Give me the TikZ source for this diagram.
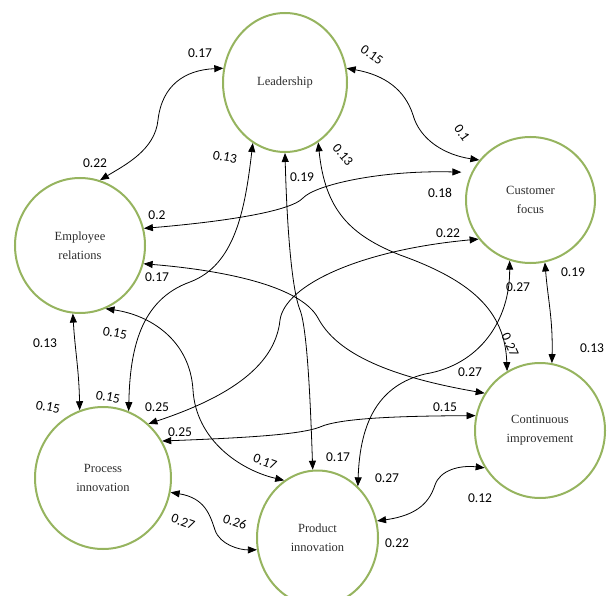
\documentclass[tikz,border=0pt]{standalone}
\usepackage{fontspec}
\setmainfont{Liberation Serif}
\newfontfamily\labfont{Carlito}
\usetikzlibrary{shapes.geometric,arrows.meta}
\definecolor{olivec}{RGB}{150,180,95}
\definecolor{txtc}{RGB}{45,45,45}
\tikzset{
  cnode/.style={ellipse, draw=olivec, line width=2pt, inner sep=0pt, align=center, text=txtc, font=\fontsize{12.5}{19}\selectfont},
  rel/.style={line width=0.8pt, {Triangle[length=9pt,width=7pt]}-{Triangle[length=9pt,width=7pt]}},
  lab/.style={font=\labfont\fontsize{13.5}{14}\selectfont, inner sep=0pt}
}
\begin{document}
\begin{tikzpicture}[x=1pt,y=-1pt]
\useasboundingbox (0,0) rectangle (610,596);
% nodes
\node[cnode, minimum width=124pt, minimum height=139pt] (L) at (285,82.5) {Leadership};
\node[cnode, minimum width=130pt, minimum height=135pt] (ER) at (80,245.5) {Employee\\relations};
\node[cnode, minimum width=129pt, minimum height=126pt] (CF) at (530.5,200) {Customer\\focus};
\node[cnode, minimum width=136pt, minimum height=142pt] (PI) at (103,478) {Process\\innovation};
\node[cnode, minimum width=121pt, minimum height=135pt] (PD) at (317.5,538) {Product\\innovation};
\node[cnode, minimum width=130pt, minimum height=135pt] (CI) at (540,430.5) {Continuous\\improvement};
% edges
\draw[rel] (ER.73) .. controls (125,165) and (155,150) .. (158,120) .. controls (162,85) and (185,70) .. (L.167);
\draw[rel] (L.13) .. controls (385,75) and (405,90) .. (413,115) .. controls (420,140) and (445,155) .. (CF.142);
\draw[rel, shorten >=10pt] (ER.15) .. controls (220,222) and (290,212) .. (303,198) .. controls (315,185) and (380,170) .. (CF.155);
\draw[rel] (PI.69) .. controls (130,350) and (140,300) .. (190,282) .. controls (235,265) and (245,210) .. (L.242);
\draw[rel] (L.270) .. controls (287,230) and (292,290) .. (300,310) .. controls (308,330) and (311,420) .. (PD.94);
\draw[rel] (L.299) .. controls (325,210) and (350,235) .. (400,255) .. controls (470,280) and (505,310) .. (CI.119);
\draw[rel] (ER.344) .. controls (220,270) and (300,285) .. (318,318) .. controls (335,350) and (380,375) .. (CI.146);
\draw[rel] (ER.292) .. controls (150,315) and (190,340) .. (193,390) .. controls (196,440) and (240,470) .. (PD.120);
\draw[rel] (ER.264) .. controls (75,350) and (79,370) .. (PI.109);
\draw[rel] (PI.50) .. controls (220,400) and (275,370) .. (280,320) .. controls (285,285) and (360,250) .. (CF.217);
\draw[rel] (PI.32) .. controls (240,438) and (300,435) .. (320,427) .. controls (340,418) and (400,416) .. (CI.167);
\draw[rel] (PI.348) .. controls (205,498) and (210,515) .. (215,530) .. controls (220,545) and (240,550) .. (PD.191);
\draw[rel] (CF.251) .. controls (510,320) and (480,365) .. (425,374) .. controls (380,385) and (360,420) .. (PD.52);
\draw[rel] (CF.283) .. controls (548,300) and (553,320) .. (CI.80);
\draw[rel] (PD.16) .. controls (420,515) and (430,500) .. (435,485) .. controls (440,470) and (460,465) .. (CI.214);
% labels
\node[lab] (a1) at (200,53) {0.17};
\node[lab] (a2) at (95,163) {0.22};
\node[lab, rotate=-35] (b1) at (372,55) {0.15};
\node[lab, rotate=-55] (b2) at (462,133) {0.1};
\node[lab] (c1) at (157,215) {0.2};
\node[lab] (c2) at (440,193) {0.18};
\node[lab, rotate=-10] (d1) at (225,157) {0.13};
\node[lab, rotate=-10] (d2) at (108,397) {0.15};
\node[lab] (e1) at (302,177) {0.19};
\node[lab] (e2) at (338,457) {0.17};
\node[lab, rotate=-50] (f1) at (343,155) {0.13};
\node[lab, rotate=-65] (f2) at (510,345) {0.27};
\node[lab] (g1) at (157,277) {0.17};
\node[lab] (g2) at (470,372) {0.27};
\node[lab, rotate=-10] (h1) at (115,333) {0.15};
\node[lab, rotate=-20] (h2) at (265,462) {0.17};
\node[lab] (i1) at (45,343) {0.13};
\node[lab, rotate=-10] (i2) at (48,407) {0.15};
\node[lab] (j1) at (157,407) {0.25};
\node[lab] (j2) at (448,233) {0.22};
\node[lab] (k1) at (180,432) {0.25};
\node[lab] (k2) at (445,407) {0.15};
\node[lab, rotate=-20] (m1) at (183,522) {0.27};
\node[lab, rotate=-20] (m2) at (235,522) {0.26};
\node[lab] (n1) at (518,287) {0.27};
\node[lab] (n2) at (387,478) {0.27};
\node[lab] (o1) at (573,272) {0.19};
\node[lab] (o2) at (592,348) {0.13};
\node[lab] (p1) at (480,498) {0.12};
\node[lab] (p2) at (397,543) {0.22};
\end{tikzpicture}
\end{document}
